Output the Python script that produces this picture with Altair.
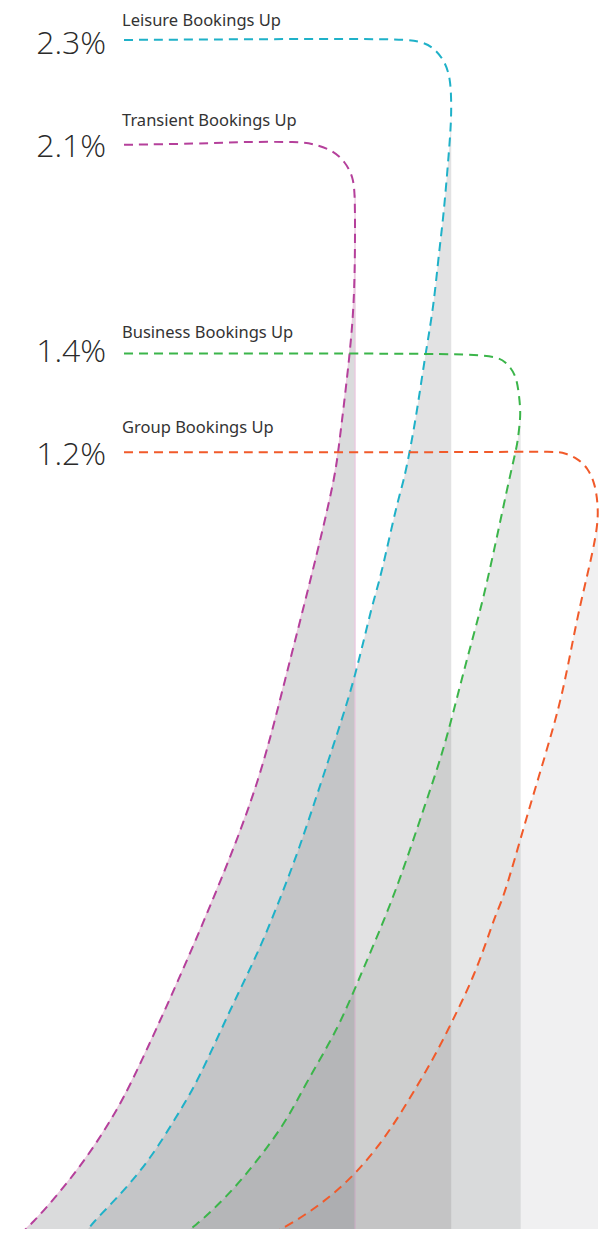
import altair as alt
import pandas as pd

# ---- categories, values, colours -------------------------------------------
names = ["Leisure Bookings Up", "Transient Bookings Up", "Business Bookings Up", "Group Bookings Up"]
values = ["2.3%", "2.1%", "1.4%", "1.2%"]
colors = ["#1fb1c8", "#b5409b", "#3bb54a", "#f15a2a"]
fill_alpha = [0.20, 0.25, 0.17, 0.10]
edge_stroke = ["#ffffff", "#ecc6df", "#ffffff", "#ffffff"]
edge_stroke_alpha = [0.0, 1.0, 0.0, 0.0]

# ---- layout reference levels (chart units, top-down) ------------------------
label_y = [24, 124, 337, 432]
number_y = [52, 155, 361, 464]
edge_x = [455, 358, 525, 603]      # right edge of each shaded band
apex_y = [97, 193, 410, 503]       # where each curve turns downward

# ---- traced curves ---------------------------------------------------------
leisure_x = [125, 300, 400, 423, 437, 449, 454, 455, 455, 453, 447, 443, 437, 429, 420, 413, 407, 400, 383, 376,
             358, 340, 320, 302, 283, 260, 233, 200, 180, 159, 140, 116, 93, 83]
leisure_y = [38, 37, 37, 39, 45, 60, 77, 97, 117, 147, 217, 247, 307, 352, 413, 451, 480, 503, 580, 600,
             677, 733, 793, 847, 897, 953, 1007, 1080, 1113, 1147, 1173, 1200, 1223, 1237]

transient_x = [125, 200, 240, 303, 315, 335, 348, 356, 358, 358, 357, 353, 341, 337, 313, 287, 262, 223, 180, 134,
               116, 97, 78, 56, 33, 17]
transient_y = [143, 142, 140, 140, 142, 148, 160, 175, 193, 250, 300, 352, 451, 480, 580, 680, 780, 880, 980, 1080,
               1113, 1143, 1170, 1197, 1223, 1237]

business_x = [125, 400, 497, 510, 520, 523, 525, 524, 522, 520, 513, 503, 487, 473, 460, 447, 430, 403, 383, 360,
              340, 310, 291, 269, 246, 223, 196, 180]
business_y = [352, 352, 353, 360, 373, 390, 410, 423, 440, 450, 480, 527, 600, 650, 700, 750, 800, 880, 930, 983,
              1030, 1080, 1117, 1148, 1177, 1202, 1227, 1237]

group_x = [125, 500, 560, 570, 582, 593, 600, 603, 603, 585, 577, 567, 557, 543, 530, 508, 500, 490, 477, 463,
           440, 424, 403, 384, 360, 335, 308, 279, 264]
group_y = [451, 451, 450, 452, 457, 467, 483, 503, 530, 603, 643, 693, 730, 777, 820, 897, 913, 943, 977, 1007,
           1053, 1080, 1115, 1143, 1172, 1195, 1215, 1232, 1237]

curves_x = [leisure_x, transient_x, business_x, group_x]
curves_y = [leisure_y, transient_y, business_y, group_y]

rows = []
for k, name in enumerate(names):
    for i, (xv, yv) in enumerate(zip(curves_x[k], curves_y[k])):
        rows.append({"series": name, "i": i, "x": xv, "y": yv,
                     "edge": edge_x[k], "desc": bool(yv >= apex_y[k])})
curve_df = pd.DataFrame(rows)

text_df = pd.DataFrame({"series": names, "value": values, "label_y": label_y,
                        "number_y": number_y})

xs = alt.Scale(domain=[8, 604], nice=False, zero=False)
ys = alt.Scale(domain=[6, 1229], nice=False, zero=False, reverse=True)
col = alt.Scale(domain=names, range=colors)

area_layers = []
for k, name in enumerate(names):
    sub = curve_df[(curve_df["series"] == name) & (curve_df["desc"])].sort_values("y")
    area_layers.append(
        alt.Chart(sub).mark_area(orient="horizontal", interpolate="basis", fill="#6d6e72",
                                 fillOpacity=fill_alpha[k], stroke=edge_stroke[k],
                                 strokeOpacity=edge_stroke_alpha[k], strokeWidth=1.2,
                                 clip=True).encode(
            y=alt.Y("y:Q", scale=ys, axis=None),
            x=alt.X("x:Q", scale=xs, axis=None, stack=None),
            x2="edge:Q",
        )
    )

lines = alt.Chart(curve_df).mark_line(strokeDash=[9, 6], strokeWidth=2, interpolate="basis",
                                      clip=True).encode(
    x=alt.X("x:Q", scale=xs, axis=None),
    y=alt.Y("y:Q", scale=ys, axis=None),
    color=alt.Color("series:N", scale=col, legend=None),
    order=alt.Order("i:Q"),
)

labels = alt.Chart(text_df).mark_text(align="left", baseline="alphabetic", fontSize=16.5, font="Noto Sans",
                                      color="#333333").encode(
    x=alt.datum(123, scale=xs),
    y=alt.Y("label_y:Q", scale=ys, axis=None),
    text="series:N",
)

numbers = alt.Chart(text_df).mark_text(align="right", baseline="alphabetic", fontSize=32, font="Open Sans",
                                       fontWeight=300, color="#2a2a2a").encode(
    x=alt.datum(107, scale=xs),
    y=alt.Y("number_y:Q", scale=ys, axis=None),
    text="value:N",
)

chart = alt.layer(*area_layers, lines, labels, numbers).properties(
    width=591, height=1221, padding=0, autosize=alt.AutoSizeParams(type="none"),
).configure_view(stroke=None)

chart.save("out.html", embed_options={"renderer": "svg", "actions": False})
